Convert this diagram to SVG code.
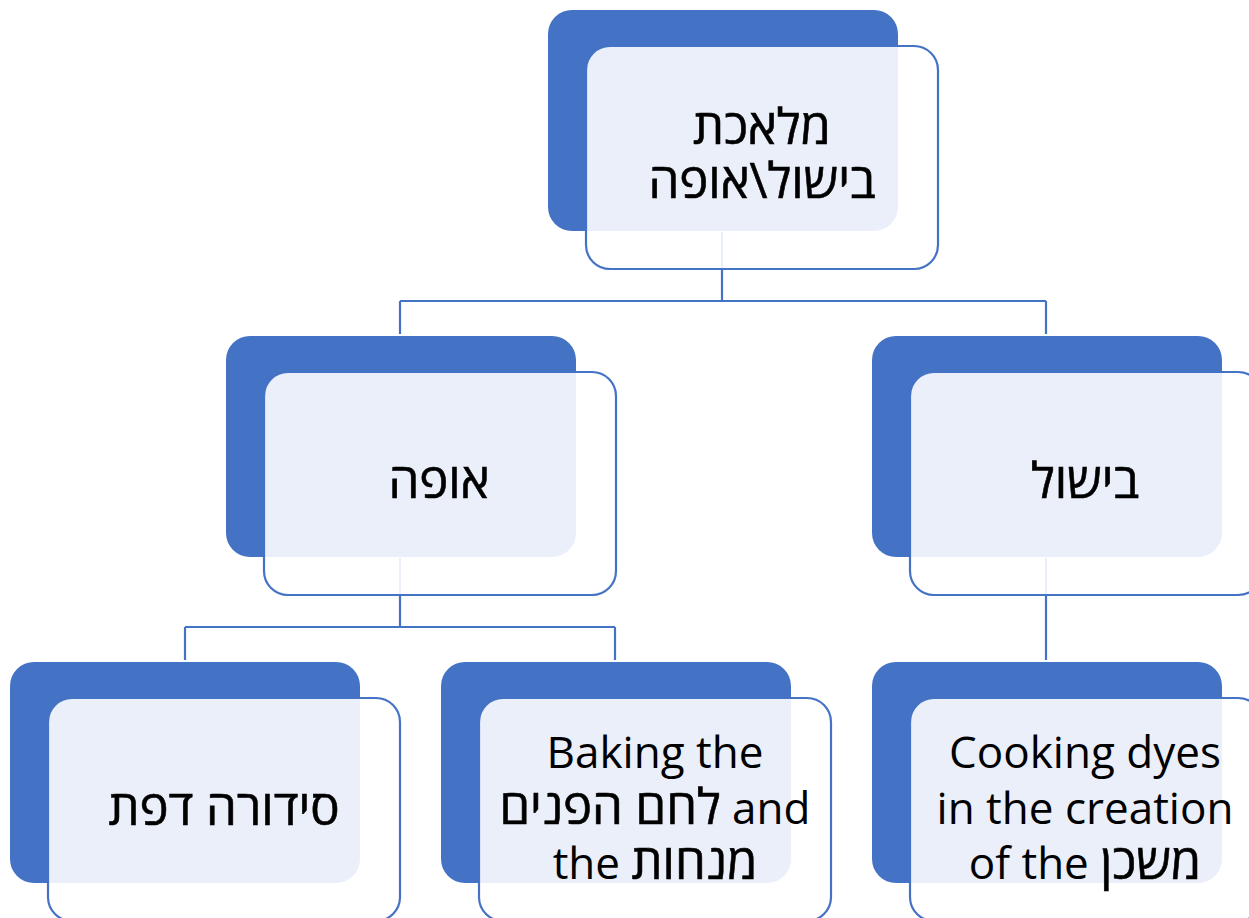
<svg xmlns="http://www.w3.org/2000/svg" width="1249" height="918" viewBox="0 0 1249 918">
<style>
.back{fill:#4472C4;}
.front{fill:#FFFFFF;fill-opacity:0.89;stroke:#4472C4;stroke-width:2.2;}
.conn{fill:none;stroke:#4472C4;stroke-width:2.2;}
.t{font-family:"Open Sans","DejaVu Sans",sans-serif;font-size:44px;fill:#000;text-anchor:middle;}
.he{font-size:49px;stroke:#000;stroke-width:0.6;}
</style>
<rect width="1249" height="918" fill="#FFFFFF"/>
<g id="connectors">
<path class="conn" d="M722,232 V301 M400,301 H1046 M400,301 V334 M1046,301 V334"/>
<path class="conn" d="M400,558 V627 M185,627 H615 M185,627 V660 M615,627 V660"/>
<path class="conn" d="M1046,558 V660"/>
</g>
<g id="n-root">
<rect class="back" x="548" y="10" width="350" height="221" rx="24"/>
<rect class="front" x="586" y="46" width="352" height="223" rx="24"/>
<text class="t he" x="762" y="144">מלאכת</text>
<text class="t he" x="762" y="198">בישול\אופה</text>
</g>
<g id="n-ofe">
<rect class="back" x="226" y="336" width="350" height="221" rx="24"/>
<rect class="front" x="264" y="372" width="352" height="223" rx="24"/>
<text class="t he" x="439" y="498">אופה</text>
</g>
<g id="n-bishul">
<rect class="back" x="872" y="336" width="350" height="221" rx="24"/>
<rect class="front" x="910" y="372" width="352" height="223" rx="24"/>
<text class="t he" x="1085" y="498">בישול</text>
</g>
<g id="n-sidura">
<rect class="back" x="10" y="662" width="350" height="221" rx="24"/>
<rect class="front" x="48" y="698" width="352" height="223" rx="24"/>
<text class="t he" x="224" y="825">סידורה דפת</text>
</g>
<g id="n-baking">
<rect class="back" x="441" y="662" width="350" height="221" rx="24"/>
<rect class="front" x="479" y="698" width="352" height="223" rx="24"/>
<text class="t" x="655" y="768">Baking the</text>
<text class="t" x="655" y="824" direction="ltr"><tspan class="he">לחם הפנים</tspan> and</text>
<text class="t" x="655" y="879" direction="ltr">the <tspan class="he">מנחות</tspan></text>
</g>
<g id="n-cooking">
<rect class="back" x="872" y="662" width="350" height="221" rx="24"/>
<rect class="front" x="910" y="698" width="352" height="223" rx="24"/>
<text class="t" x="1085" y="768">Cooking dyes</text>
<text class="t" x="1085" y="824">in the creation</text>
<text class="t" x="1085" y="879" direction="ltr">of the <tspan class="he">משכן</tspan></text>
</g>
</svg>
